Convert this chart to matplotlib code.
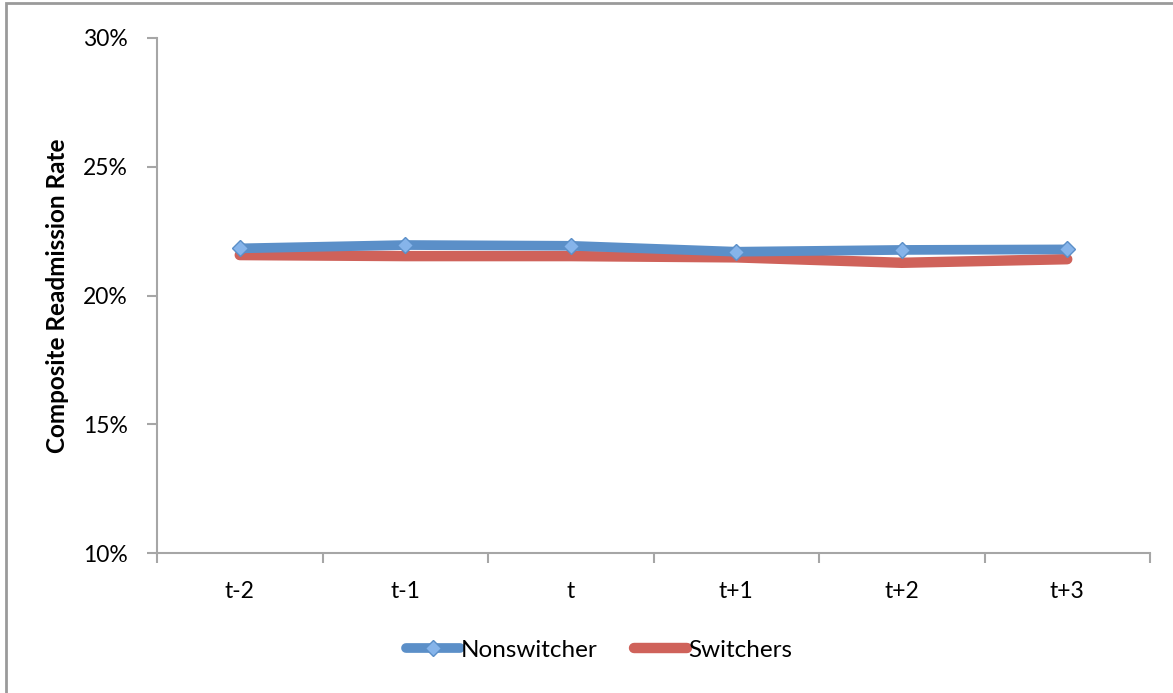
import matplotlib.pyplot as plt
from matplotlib.patches import Rectangle
from matplotlib.ticker import FixedLocator, PercentFormatter

periods = ["t-2", "t-1", "t", "t+1", "t+2", "t+3"]
nonswitcher = [21.83, 21.96, 21.93, 21.70, 21.77, 21.79]
switchers = [21.57, 21.53, 21.53, 21.48, 21.27, 21.41]

plt.rcParams['font.family'] = ['Lato', 'DejaVu Sans']

fig = plt.figure(figsize=(11.73, 6.93), dpi=100)
ax = fig.add_axes([157 / 1173, 1 - 553 / 693, (1150 - 157) / 1173, (553 - 38) / 693])

x = range(len(periods))
ax.plot(x, nonswitcher, color="#5b8fc8", lw=7, solid_capstyle="round",
        marker="D", ms=8, mfc="#86b4ea", mec="#5b8fc8", mew=1, label="Nonswitcher", zorder=3)
ax.plot(x, switchers, color="#cf625a", lw=7.5, solid_capstyle="round",
        label="Switchers", zorder=2)

ax.set_xlim(-0.5, len(periods) - 0.5)
ax.set_ylim(10, 30)
ax.set_yticks([10, 15, 20, 25, 30])
ax.yaxis.set_major_formatter(PercentFormatter(decimals=0))

# category labels sit between the tick marks
ax.set_xticks(list(x))
ax.set_xticklabels(periods)
ax.xaxis.set_minor_locator(FixedLocator([i - 0.5 for i in range(len(periods) + 1)]))
ax.tick_params(axis="x", which="major", length=0, pad=20, labelsize=16.5)
ax.tick_params(axis="x", which="minor", length=7, width=1.5, color="#a6a6a6")
ax.tick_params(axis="y", length=7, width=1.5, color="#a6a6a6", pad=14, labelsize=16.5)

for side in ["top", "right"]:
    ax.spines[side].set_visible(False)
for side in ["left", "bottom"]:
    ax.spines[side].set_color("#a6a6a6")
    ax.spines[side].set_linewidth(1.5)

ax.set_ylabel("Composite Readmission Rate", fontsize=17.5, fontweight="bold", labelpad=10)

leg = fig.legend(loc="center", bbox_to_anchor=(0.511, 1 - 650 / 693), ncol=2,
                 frameon=False, fontsize=17.5, handlelength=2.2, handletextpad=0.05,
                 columnspacing=1.5)

# outer frame and the clipped panel label at the top
fig.patches.append(Rectangle((6 / 1173, -0.1), 1.2, 1.1 - 3 / 693, transform=fig.transFigure,
                             fill=False, ec="#9a9a9a", lw=2))
fig.text(685 / 1173, 1 - 1 / 693, "(c)", ha="center", va="bottom", fontsize=12,
         family="DejaVu Serif")

fig.savefig("out.png", dpi=100)
